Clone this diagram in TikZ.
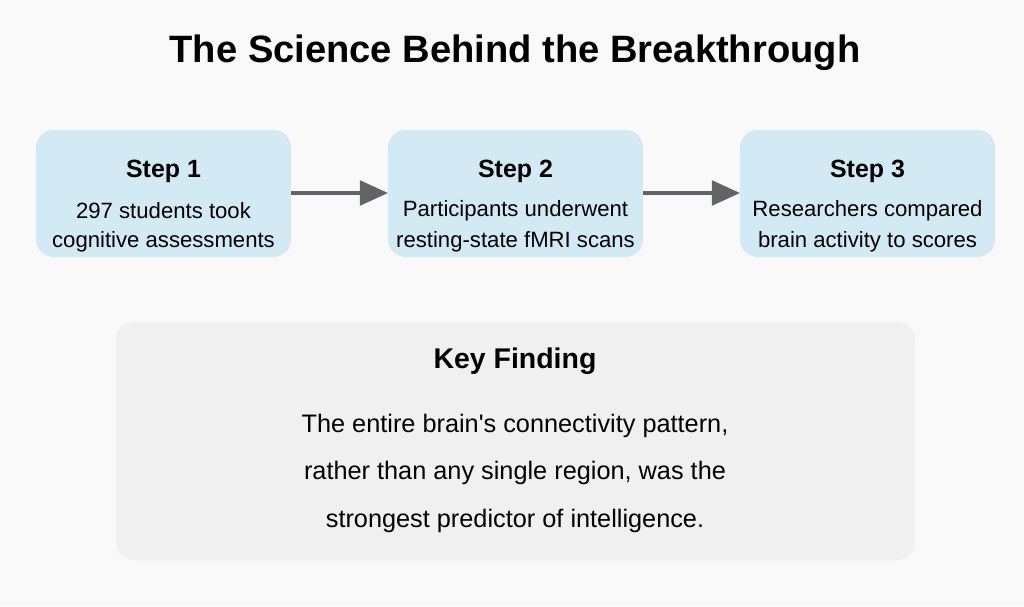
\documentclass[tikz,border=0pt]{standalone}
\usepackage{fontspec}
\setmainfont{Liberation Sans}
\usetikzlibrary{arrows.meta}
\definecolor{stepfill}{HTML}{D3E9F3}
\definecolor{keyfill}{HTML}{F0F0F0}
\definecolor{bgcol}{HTML}{F9F9F9}
\definecolor{arrcol}{HTML}{5F6566}
\tikzset{
  stepbox/.style={fill=stepfill, rounded corners=10pt},
  keybox/.style={fill=keyfill, rounded corners=10pt},
  flow/.style={-{Triangle[length=16pt,width=14pt]}, line width=2pt, arrcol}
}
\begin{document}
\begin{tikzpicture}[x=0.02cm,y=-0.02cm]
    \fill[bgcol] (0,0) rectangle (1024,606);
    \useasboundingbox (0,0) rectangle (1024,606);
    \node at (515,53) {\fontsize{21.7}{25}\selectfont\bfseries The Science Behind the Breakthrough};
    % steps
    \foreach \i/\x/\a/\b in {1/36/297 students took/cognitive assessments,
                             2/388/Participants underwent/resting-state fMRI scans,
                             3/740/Researchers compared/brain activity to scores}{
        \fill[stepbox] (\x,130) rectangle (\x+255,257);
        \coordinate (s\i w) at (\x,193);
        \coordinate (s\i e) at (\x+255,193);
        \node (s\i) at (\x+127.5,171) {\fontsize{14.2}{17}\selectfont\bfseries Step \i};
        \node at (\x+127.5,211) {\fontsize{12.6}{15}\selectfont \a};
        \node at (\x+127.5,242) {\fontsize{12.6}{15}\selectfont \b};
    }
    \draw[flow] (s1e) -- (s2w);
    \draw[flow] (s2e) -- (s3w);
    % key finding
    \fill[keybox] (116,322) rectangle (915,560);
    \node (key) at (515,361) {\fontsize{16.2}{19}\selectfont\bfseries Key Finding};
    \node at (515,426) {\fontsize{14.4}{17}\selectfont The entire brain\textquotesingle s connectivity pattern,};
    \node at (515,473) {\fontsize{14.4}{17}\selectfont rather than any single region, was the};
    \node at (515,521) {\fontsize{14.4}{17}\selectfont strongest predictor of intelligence.};
\end{tikzpicture}
\end{document}
